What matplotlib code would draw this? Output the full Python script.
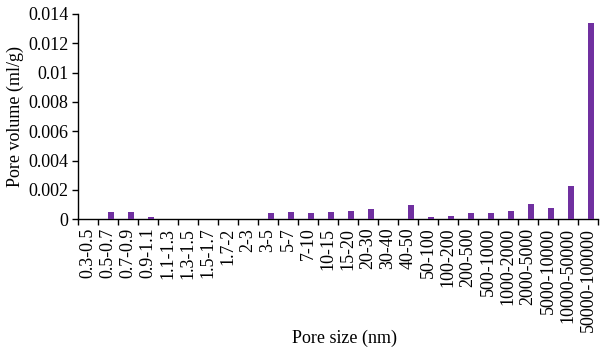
import matplotlib
matplotlib.use("Agg")
import matplotlib.pyplot as plt
import numpy as np

categories = ["0.3-0.5", "0.5-0.7", "0.7-0.9", "0.9-1.1", "1.1-1.3", "1.3-1.5",
              "1.5-1.7", "1.7-2", "2-3", "3-5", "5-7", "7-10", "10-15", "15-20",
              "20-30", "30-40", "40-50", "50-100", "100-200", "200-500",
              "500-1000", "1000-2000", "2000-5000", "5000-10000",
              "10000-50000", "50000-100000"]
pore_volume = [0.00005, 0.0005, 0.0005, 0.00016, 0.00004, 0.00004,
               0.0, 0.0, 0.0, 0.00041, 0.0005, 0.00041, 0.0005, 0.00057,
               0.00068, 0.0, 0.00096, 0.00016, 0.00023, 0.00041,
               0.00041, 0.00057, 0.00105, 0.00075, 0.00225, 0.0134]
y_ticks = [0, 0.002, 0.004, 0.006, 0.008, 0.01, 0.012, 0.014]
y_tick_labels = ["0", "0.002", "0.004", "0.006", "0.008", "0.01", "0.012", "0.014"]

plt.rcParams['font.family'] = ['Liberation Serif', 'DejaVu Serif']
fs = 13

fig = plt.figure(figsize=(6, 3.5), dpi=100)
ax = fig.add_axes([78/600, 1-219.3/350, 520/600, (219.3-14)/350])

x = np.arange(len(categories))
ax.bar(x, pore_volume, width=0.28, align='edge', color='#7030A0', zorder=3)

ax.set_xlim(-0.5, len(categories) - 0.5)
ax.set_ylim(0, 0.014)
ax.set_yticks(y_ticks)
ax.set_yticklabels(y_tick_labels, fontsize=fs)
ax.set_xticks(x)
ax.set_xticklabels(categories, rotation=90, fontsize=fs)
ax.tick_params(axis='x', which='major', length=0, pad=6)
ax.set_xticks(np.arange(-0.5, len(categories)), minor=True)
ax.tick_params(axis='x', which='minor', length=4, width=1, direction='out', color='black')
ax.tick_params(axis='y', which='major', length=4, width=1, direction='out', pad=3)

for s in ['top', 'right']:
    ax.spines[s].set_visible(False)
for s in ['left', 'bottom']:
    ax.spines[s].set_color('black')
    ax.spines[s].set_linewidth(1)

ax.set_ylabel("Pore volume (ml/g)", fontsize=fs)
ax.yaxis.set_label_coords(-0.104, 0.5)
fig.text(344/600, 1-338/350, "Pore size (nm)", fontsize=fs, ha='center', va='center')

fig.savefig("out.png", dpi=100)
